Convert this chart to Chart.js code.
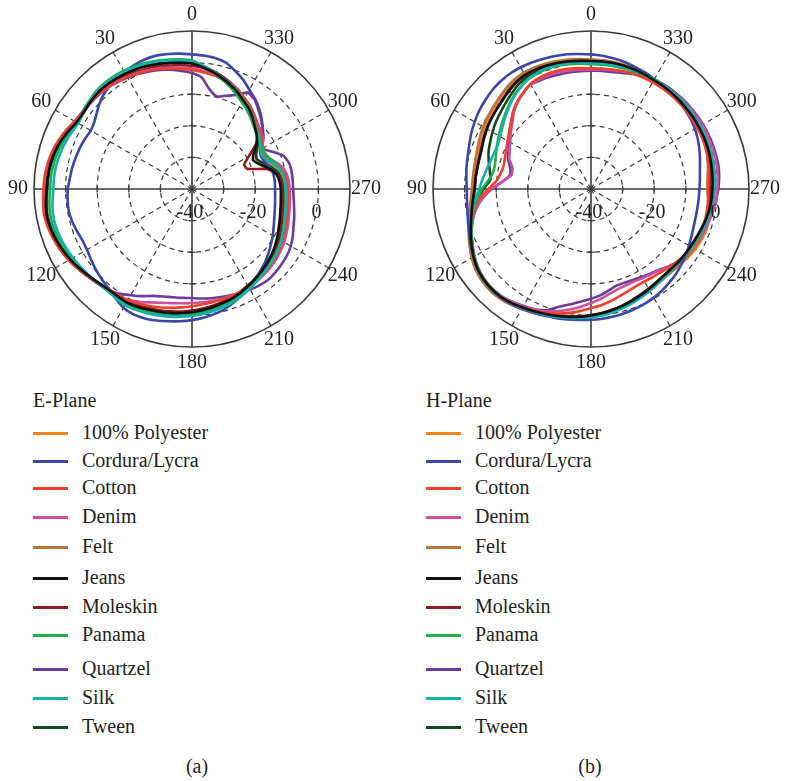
<!DOCTYPE html>
<html><head><meta charset="utf-8">
<script src="https://cdn.jsdelivr.net/npm/chart.js@4.4.0/dist/chart.umd.min.js"></script>
<style>
html,body{margin:0;padding:0;background:#fff;}
#page{position:relative;width:786px;height:781px;overflow:hidden;font-family:"Liberation Serif","Tinos","Times New Roman","DejaVu Serif",serif;color:#231f20;}
canvas{position:absolute;top:0;}
.txt{position:absolute;font-size:20px;line-height:20px;height:20px;white-space:nowrap;}
.sw{position:absolute;width:35px;height:3px;}
</style></head><body><div id="page">
<canvas id="cE" width="393" height="380" style="left:0"></canvas>
<canvas id="cH" width="393" height="380" style="left:393px"></canvas>
</div>
<script>
// ---------------- DATA ----------------
const sampleAngles = [0,5,10,15,20,25,30,35,40,45,50,55,60,65,70,75,80,85,90,95,100,105,110,115,120,125,130,135,140,145,150,155,160,165,170,175,180,185,190,195,200,205,210,215,220,225,230,235,240,245,250,255,260,265,270,275,280,285,290,295,300,305,310,315,320,325,330,335,340,345,350,355];
const angleTickLabels = ['0','30','60','90','120','150','180','210','240','270','300','330'];
const angleTickValues = [0,30,60,90,120,150,180,210,240,270,300,330];
const radialTickLabels = ['-40','-20','0'];
const radialTickValues = [-40,-20,0];
const seriesNames = ['100% Polyester','Cordura/Lycra','Cotton','Denim','Felt','Jeans','Moleskin','Panama','Quartzel','Silk','Tween'];
const planeTitles = ['E-Plane','H-Plane'];
const captions = ['(a)','(b)'];

// E-plane (dB), angles 0..355 step 5 (counter-clockwise from top)
const ePolyester = [0.1,0.5,0.9,1.3,1.7,2.0,2.3,2.6,2.8,2.8,2.5,2.2, 2.4,3.4,4.3,5.1,5.6,5.9,6.1,6.5,6.8,6.6,6.1,5.4, 4.6,3.7,2.9,2.1,1.6,1.5,1.6,1.3,0.8,0.4,0.0,-0.4, -0.8,-1.3,-1.8,-2.3,-2.8,-3.4,-4.0,-4.6,-5.2,-5.8,-6.4,-7.1, -7.8,-8.6,-9.3,-9.8,-10.2,-10.5,-10.6,-10.8,-11.4,-12.8,-14.6,-15.8, -15.2,-13.6,-12.4,-11.2,-9.8,-8.4,-7.2,-5.8,-4.5,-3.3,-2.1,-1.0];
const eCordura = [2.6,3.0,3.4,3.7,3.6,3.3,2.8,2.2,1.5,0.5,-1.0,-2.4, -3.0,-2.6,-2.2,-1.9,-1.5,-1.2,-0.7,-0.5,-0.4,-0.7,-1.2,-1.7, -1.6,-1.0,-0.3,0.4,1.0,2.2,3.4,3.8,3.6,3.1,2.5,2.0, 1.5,0.9,0.2,-0.6,-1.7,-2.9,-4.2,-5.3,-6.3,-7.3,-8.4,-9.5, -10.5,-11.5,-12.3,-12.9,-13.3,-13.6,-13.7,-13.7,-13.8,-14.3,-15.3,-15.8, -15.0,-12.8,-10.8,-8.8,-6.9,-5.2,-3.7,-1.8,-0.2,1.4,2.1,2.4];
const eCotton = [-2.3,-1.8,-1.3,-0.7,-0.1,0.5,1.0,1.5,1.9,2.2,2.3,2.4, 2.9,4.0,5.0,5.8,6.4,6.8,7.0,7.3,7.5,7.2,6.6,5.9, 5.0,4.0,3.0,2.1,1.4,1.0,0.6,0.0,-0.6,-1.2,-1.8,-2.4, -2.9,-3.3,-3.6,-3.8,-3.9,-4.0,-4.2,-4.5,-4.9,-5.3,-5.8,-6.3, -6.9,-7.6,-8.3,-8.8,-9.2,-9.5,-9.8,-10.0,-10.5,-11.8,-13.8,-15.2, -14.6,-13.0,-11.9,-10.9,-9.5,-8.0,-6.8,-5.5,-4.6,-3.9,-3.3,-2.8];
const eDenim = [-1.9,-1.5,-1.0,-0.4,0.1,0.6,1.0,1.4,1.8,2.0,2.0,2.0, 2.5,3.6,4.6,5.4,5.9,6.2,6.4,6.8,7.0,6.8,6.3,5.6, 4.8,3.8,2.8,1.9,1.3,1.0,0.5,-0.6,-1.8,-2.7,-3.3,-3.7, -3.9,-4.0,-4.0,-4.0,-4.0,-4.0,-4.2,-4.3,-4.6,-4.9,-5.3,-5.8, -6.3,-7.0,-7.6,-8.2,-8.6,-8.9,-9.1,-9.3,-9.8,-11.0,-13.0,-14.6, -14.2,-12.6,-11.6,-10.6,-9.3,-7.9,-6.8,-5.4,-4.4,-3.6,-2.9,-2.4];
const eFelt = [0.1,0.5,0.9,1.4,1.8,2.2,2.5,2.8,3.0,3.0,2.7,2.4, 2.6,3.6,4.6,5.4,5.9,6.2,6.4,6.8,7.1,6.9,6.4,5.7, 4.9,4.0,3.1,2.3,1.8,1.7,1.8,1.5,1.0,0.6,0.2,-0.2, -0.6,-1.2,-1.7,-2.2,-2.7,-3.3,-3.9,-4.5,-5.1,-5.7,-6.4,-7.2, -8.0,-8.9,-9.6,-10.2,-10.6,-10.9,-11.0,-11.3,-12.0,-13.8,-16.2,-17.6, -16.6,-14.3,-12.8,-11.4,-9.9,-8.4,-7.2,-5.7,-4.4,-3.2,-2.0,-0.9];
const eJeans = [-0.3,0.1,0.5,1.0,1.4,1.8,2.1,2.4,2.6,2.6,2.3,2.0, 2.2,3.2,4.2,5.0,5.5,5.8,6.0,6.4,6.7,6.5,6.0,5.3, 4.5,3.6,2.7,1.9,1.4,1.3,1.4,1.1,0.6,0.2,-0.2,-0.6, -1.0,-1.6,-2.1,-2.6,-3.1,-3.8,-4.5,-5.2,-5.9,-6.6,-7.3,-8.1, -8.9,-9.8,-10.5,-11.1,-11.5,-11.8,-11.9,-12.2,-12.9,-14.8,-17.2,-18.6, -17.5,-15.0,-13.3,-11.9,-10.3,-8.8,-7.6,-6.1,-4.8,-3.6,-2.4,-1.3];
const eMoleskin = [-1.1,-0.7,-0.3,0.2,0.6,1.0,1.4,1.8,2.1,2.3,2.2,2.1, 2.5,3.6,4.6,5.5,6.0,6.3,6.5,6.9,7.2,7.0,6.5,5.8, 5.0,4.0,3.0,2.1,1.4,1.0,0.9,0.6,0.1,-0.3,-0.7,-1.1, -1.5,-2.0,-2.5,-3.0,-3.5,-4.1,-4.7,-5.3,-5.9,-6.5,-7.1,-7.7, -8.4,-9.2,-9.9,-10.4,-10.7,-10.9,-11.0,-11.3,-12.6,-15.5,-21.4,-21.8, -19.2,-15.3,-12.6,-11.2,-9.7,-8.2,-7.0,-5.5,-4.2,-3.1,-2.1,-1.5];
const ePanama = [0.7,1.2,1.6,2.1,2.5,2.9,3.2,3.4,3.5,3.3,2.8,2.2, 2.1,2.8,3.5,4.1,4.5,4.8,4.9,5.3,5.6,5.5,5.1,4.6, 4.0,3.3,2.6,2.0,1.7,1.8,2.0,1.8,1.4,1.0,0.5,0.1, -0.2,-0.7,-1.2,-1.8,-2.4,-3.1,-3.8,-4.5,-5.1,-5.6,-6.2,-6.8, -7.4,-8.2,-8.9,-9.5,-9.9,-10.2,-10.4,-10.6,-11.0,-11.9,-13.2,-14.2, -14.3,-13.8,-13.2,-12.3,-11.0,-9.6,-8.4,-6.9,-5.4,-4.0,-2.5,-0.9];
const eQuartzel = [-3.3,-2.5,-1.7,-1.0,-0.4,0.2,0.7,1.2,1.7,2.0,2.2,2.3, 2.6,3.4,4.3,5.0,5.5,5.8,6.0,6.3,6.6,6.4,5.9,5.2, 4.5,3.7,2.9,2.2,1.5,0.4,-1.2,-2.6,-4.0,-4.8,-5.2,-5.4, -5.5,-5.2,-4.9,-4.6,-4.2,-3.8,-3.3,-2.8,-2.5,-2.7,-3.0,-3.3, -3.9,-4.8,-5.8,-6.5,-7.2,-7.7,-8.0,-8.0,-8.0,-8.2,-9.2,-12.0, -14.4,-12.4,-10.7,-9.0,-7.3,-5.5,-4.7,-7.2,-8.6,-9.7,-8.0,-4.6];
const eSilk = [0.5,0.9,1.3,1.8,2.2,2.6,2.9,3.1,3.2,3.0,2.5,1.9, 1.6,2.1,2.7,3.2,3.6,3.8,3.9,4.3,4.7,4.7,4.4,4.0, 3.5,3.0,2.5,2.1,1.9,2.1,2.4,2.2,1.8,1.4,1.0,0.6, 0.2,-0.3,-0.8,-1.4,-2.0,-2.7,-3.5,-4.3,-5.0,-5.6,-6.1,-6.7, -7.3,-8.1,-8.8,-9.4,-9.8,-10.1,-10.3,-10.5,-11.0,-12.3,-14.2,-15.4, -15.0,-13.8,-12.6,-11.6,-10.1,-8.6,-7.4,-5.9,-4.6,-3.4,-2.1,-0.8];
const eTween = [0.0,0.4,0.8,1.3,1.7,2.1,2.4,2.7,2.9,2.9,2.6,2.3, 2.3,3.1,4.0,4.8,5.3,5.6,5.8,6.2,6.5,6.3,5.8,5.1, 4.4,3.6,2.8,2.1,1.7,1.6,1.7,1.5,1.0,0.6,0.2,-0.2, -0.6,-1.2,-1.7,-2.3,-2.8,-3.5,-4.2,-4.9,-5.5,-6.1,-6.8,-7.5, -8.3,-9.1,-9.8,-10.4,-10.8,-11.1,-11.2,-11.5,-12.1,-13.8,-16.0,-17.4, -16.5,-14.3,-12.9,-11.6,-10.1,-8.6,-7.3,-5.8,-4.5,-3.3,-2.1,-1.0];

// H-plane (dB)
const hPolyester = [0.8,1.1,1.4,1.7,2.0,2.2,2.2,1.9,1.3,0.6,0.0,-0.6, -1.2,-1.8,-2.4,-2.8,-3.0,-3.0,-2.9,-2.3,-1.5,-0.5,0.7,1.9, 3.1,4.1,4.7,4.9,4.8,4.3,3.6,3.0,2.3,1.8,1.3,0.8, 0.3,-0.2,-0.8,-1.4,-2.0,-2.6,-3.1,-3.5,-3.7,-3.5,-3.0,-2.4, -1.9,-1.5,-1.3,-1.4,-1.8,-2.4,-2.9,-2.8,-2.3,-1.7,-1.2,-0.9, -0.7,-0.6,-0.5,-0.4,-0.3,-0.2,-0.1,0.1,0.3,0.5,0.7,0.8];
const hCordura = [2.6,2.9,3.3,3.6,3.9,4.2,4.5,4.6,4.5,4.2,3.7,3.2, 2.5,1.8,1.0,0.4,0.0,-0.4,-0.7,-0.6,-0.3,0.3,1.0,2.0, 3.0,3.9,4.5,4.8,4.7,4.3,3.8,3.2,2.7,2.3,1.9,1.6, 1.4,1.2,1.0,0.7,0.4,0.1,-0.3,-0.8,-1.4,-2.0,-2.7,-3.4, -4.2,-4.9,-5.4,-5.7,-5.8,-5.8,-5.7,-5.4,-5.0,-4.3,-3.5,-2.7, -2.0,-1.5,-1.1,-0.7,-0.4,-0.1,0.2,0.6,1.0,1.5,1.9,2.3];
const hCotton = [-1.8,-1.6,-1.3,-1.1,-1.0,-1.2,-1.6,-2.7,-3.8,-5.3,-7.0,-8.4, -9.5,-10.4,-11.0,-11.4,-11.0,-10.0,-7.5,-4.5,-2.5,-1.0,0.3,1.5, 2.7,3.7,4.3,4.5,4.4,3.9,3.2,2.5,1.7,0.8,-0.2,-1.2, -2.3,-3.1,-4.0,-4.9,-5.6,-6.1,-6.2,-6.0,-5.6,-5.0,-4.3,-3.8, -3.3,-2.9,-2.7,-2.6,-2.7,-2.8,-2.9,-2.6,-2.2,-1.8,-1.5,-1.3, -1.2,-1.1,-1.0,-1.0,-1.0,-1.0,-1.0,-1.1,-1.2,-1.4,-1.6,-1.7];
const hDenim = [-2.2,-2.1,-1.9,-1.7,-1.6,-1.6,-1.8,-2.8,-4.0,-5.5,-7.5,-9.0, -10.5,-11.6,-12.5,-14.3,-14.5,-12.0,-8.6,-5.5,-3.0,-1.2,0.2,1.4, 2.6,3.6,4.2,4.4,4.2,3.6,2.9,2.1,1.2,0.0,-1.3,-2.6, -3.9,-5.1,-6.3,-7.2,-7.6,-7.7,-7.4,-7.0,-6.4,-5.3,-4.3,-3.6, -3.0,-2.4,-1.8,-1.2,-0.7,-0.3,0.0,0.3,0.5,0.6,0.6,0.6, 0.6,0.5,0.4,0.3,0.2,0.0,-0.3,-0.7,-1.1,-1.5,-1.8,-2.0];
const hFelt = [1.0,1.3,1.6,1.9,2.2,2.4,2.5,2.3,1.7,1.0,0.4,-0.1, -0.6,-1.2,-1.8,-2.2,-2.4,-2.4,-2.3,-1.8,-1.0,0.0,1.2,2.4, 3.6,4.6,5.1,5.3,5.1,4.6,3.9,3.2,2.5,1.9,1.4,0.9, 0.4,-0.1,-0.6,-1.2,-1.8,-2.4,-2.9,-3.3,-3.5,-3.4,-3.1,-2.7, -2.3,-1.9,-1.7,-1.8,-2.2,-2.8,-3.2,-3.0,-2.4,-1.8,-1.2,-0.9, -0.7,-0.6,-0.5,-0.4,-0.3,-0.2,-0.1,0.1,0.4,0.6,0.8,0.9];
const hJeans = [0.5,0.7,1.0,1.3,1.5,1.7,1.7,1.3,0.6,-0.3,-0.9,-1.4, -1.9,-2.5,-3.2,-3.4,-3.4,-3.3,-3.2,-2.5,-1.7,-0.7,0.5,1.7, 2.9,3.9,4.4,4.6,4.5,4.0,3.3,2.7,2.1,1.6,1.1,0.6, 0.0,-0.5,-1.1,-1.7,-2.3,-2.9,-3.4,-3.9,-4.2,-4.2,-4.0,-3.8, -3.6,-3.3,-2.9,-2.4,-2.0,-1.7,-1.6,-1.4,-1.2,-1.0,-0.8,-0.7, -0.6,-0.5,-0.5,-0.4,-0.3,-0.2,-0.2,0.0,0.2,0.4,0.5,0.5];
const hMoleskin = [0.3,0.6,0.9,1.2,1.4,1.6,1.5,1.1,0.4,-0.4,-0.9,-1.4, -2.0,-2.6,-3.0,-3.3,-3.4,-3.3,-3.2,-2.6,-1.8,-0.8,0.4,1.6, 2.8,3.8,4.4,4.6,4.4,3.9,3.2,2.6,2.0,1.4,0.9,0.4, -0.1,-0.6,-1.2,-1.8,-2.5,-3.1,-3.6,-4.0,-4.2,-4.1,-3.8,-3.4, -3.1,-2.8,-2.5,-2.2,-2.1,-2.2,-2.4,-2.2,-1.8,-1.4,-1.1,-0.9, -0.8,-0.7,-0.6,-0.5,-0.4,-0.3,-0.2,-0.1,0.1,0.2,0.3,0.3];
const hPanama = [-0.5,-0.2,0.1,0.4,0.5,0.3,0.0,-0.8,-1.8,-3.0,-4.2,-5.3, -6.3,-7.2,-8.0,-8.6,-8.6,-7.5,-5.5,-3.8,-2.2,-0.9,0.3,1.5, 2.7,3.7,4.3,4.5,4.4,4.0,3.4,2.8,2.2,1.7,1.2,0.8, 0.4,0.0,-0.6,-1.2,-1.8,-2.4,-3.0,-3.5,-3.9,-4.0,-3.9,-3.6, -3.3,-2.9,-2.5,-2.0,-1.6,-1.3,-1.1,-0.9,-0.7,-0.6,-0.5,-0.4, -0.3,-0.3,-0.2,-0.2,-0.2,-0.2,-0.2,-0.3,-0.4,-0.5,-0.5,-0.5];
const hQuartzel = [-2.6,-2.6,-2.5,-2.4,-2.2,-2.0,-1.8,-2.7,-3.8,-5.2,-7.0,-8.5, -10.0,-11.2,-12.0,-13.5,-14.0,-12.0,-8.6,-5.5,-3.0,-1.2,0.2,1.4, 2.6,3.6,4.2,4.4,4.2,3.5,2.7,2.1,0.8,-1.5,-3.0,-4.3, -5.3,-6.2,-7.4,-8.4,-8.5,-8.3,-7.9,-7.3,-6.6,-5.3,-4.3,-3.7, -3.2,-2.8,-2.2,-1.6,-0.9,-0.3,0.3,0.7,1.0,1.0,1.0,1.0, 0.9,0.8,0.7,0.6,0.5,0.3,0.0,-0.6,-1.3,-2.0,-2.4,-2.5];
const hSilk = [-0.2,0.1,0.4,0.7,0.8,0.5,0.0,-1.0,-2.0,-3.3,-4.6,-5.8, -6.8,-7.4,-7.3,-6.9,-6.3,-5.5,-4.6,-3.2,-2.0,-0.8,0.4,1.6, 2.8,3.8,4.4,4.6,4.5,4.1,3.5,2.9,2.4,1.9,1.4,1.0, 0.6,0.2,-0.4,-1.0,-1.6,-2.2,-2.8,-3.3,-3.7,-3.9,-3.8,-3.6, -3.3,-2.9,-2.4,-1.9,-1.5,-1.1,-0.8,-0.6,-0.4,-0.3,-0.2,-0.1, 0.0,0.0,0.1,0.1,0.1,0.1,0.1,0.0,-0.1,-0.1,-0.2,-0.2];
const hTween = [0.4,0.6,0.8,1.0,1.0,0.9,0.8,0.2,-0.8,-1.7,-2.5,-3.2, -4.0,-4.8,-5.5,-6.5,-7.5,-8.0,-6.0,-4.0,-2.3,-1.0,0.3,1.5, 2.7,3.7,4.3,4.5,4.4,3.9,3.3,2.7,2.1,1.6,1.1,0.6, 0.1,-0.4,-1.0,-1.6,-2.2,-2.8,-3.3,-3.8,-4.1,-4.2,-4.0,-3.8, -3.6,-3.3,-2.9,-2.5,-2.1,-1.8,-1.4,-1.2,-1.0,-0.8,-0.6,-0.5, -0.4,-0.3,-0.3,-0.2,-0.1,0.0,0.0,0.1,0.2,0.3,0.4,0.4];

const ePlane = [ePolyester,eCordura,eCotton,eDenim,eFelt,eJeans,eMoleskin,ePanama,eQuartzel,eSilk,eTween];
const hPlane = [hPolyester,hCordura,hCotton,hDenim,hFelt,hJeans,hMoleskin,hPanama,hQuartzel,hSilk,hTween];

// ---------------- STYLE / LAYOUT ----------------
const seriesColors = ['#f58220','#3c46a6','#ee412e','#cd4f9e','#b97539','#111111','#8e1b20','#1db04b','#6a3c99','#16b1ab','#0f4a22'];
const drawOrder = [11,7,4,5,10,1,8,3,6,2,9];
const gridColor = '#3a3a3a';
const textFont = '20px "Liberation Serif", Tinos, "Times New Roman", "DejaVu Serif", serif';
const legendRowY = [433,461,488,517,547,578,607,635,669,698,727];
const panelX = [0,393];

// radar draws clockwise from the top: reorder so angles increase counter-clockwise
const nA = sampleAngles.length;
const radarIdx = [];
for (let i = 0; i < nA; i++) radarIdx.push((nA - i) % nA);
function radarIndexOfAngle(a){ for (let i=0;i<nA;i++) if (sampleAngles[radarIdx[i]]===a) return i; return 0; }

const decorPlugin = {
  id: 'decor',
  beforeDatasetsDraw(chart) {
    const s = chart.scales.r, ctx = chart.ctx;
    ctx.save();
    ctx.strokeStyle = gridColor; ctx.lineWidth = 1.3; ctx.setLineDash([]);
    [0,90,180,270].forEach(a => {
      const idx = radarIndexOfAngle(a);
      [-30,-20,-10,0].forEach(v => {
        const p = s.getPointPosition(idx, s.getDistanceFromCenterForValue(v));
        ctx.beginPath();
        if (a % 180 === 0) { ctx.moveTo(p.x - 3.5, p.y); ctx.lineTo(p.x + 3.5, p.y); }
        else { ctx.moveTo(p.x, p.y - 3.5); ctx.lineTo(p.x, p.y + 3.5); }
        ctx.stroke();
      });
    });
    ctx.restore();
  },
  afterDatasetsDraw(chart) {
    const s = chart.scales.r, ctx = chart.ctx;
    ctx.save();
    ctx.fillStyle = '#231f20';
    ctx.font = textFont;
    ctx.textAlign = 'center'; ctx.textBaseline = 'middle';
    angleTickValues.forEach((a, j) => {
      const p = s.getPointPosition(radarIndexOfAngle(a), s.drawingArea + 16);
      ctx.fillText(angleTickLabels[j], p.x, p.y);
    });
    radialTickValues.forEach((v, j) => {
      const x = s.xCenter + s.getDistanceFromCenterForValue(v) - 2;
      ctx.fillText(radialTickLabels[j], x, s.yCenter + 24);
    });
    ctx.restore();
  }
};

function buildChart(canvasId, plane, padLeft) {
  const labels = radarIdx.map(k => String(sampleAngles[k]));
  const datasets = plane.map((vals, s) => ({
    label: seriesNames[s],
    data: radarIdx.map(k => vals[k]),
    borderColor: seriesColors[s],
    backgroundColor: seriesColors[s],
    borderWidth: 2.6,
    pointRadius: 0,
    pointHoverRadius: 0,
    fill: false,
    tension: 0.15,
    order: drawOrder[s]
  }));
  return new Chart(document.getElementById(canvasId), {
    type: 'radar',
    data: { labels, datasets },
    options: {
      responsive: false,
      animation: false,
      events: [],
      layout: { padding: { left: padLeft, right: 393 - padLeft - 316, top: 31, bottom: 380 - 31 - 316 } },
      plugins: { legend: { display: false }, tooltip: { enabled: false } },
      scales: {
        r: {
          min: -40, max: 10, startAngle: 0, beginAtZero: false,
          ticks: { display: false, stepSize: 10 },
          pointLabels: { display: false },
          grid: {
            circular: true,
            color: gridColor,
            lineWidth: c => (c.tick && c.tick.value === 10) ? 1.6 : 1.2
          },
          border: { dash: c => (c.tick && c.tick.value === 10) ? [] : [5, 4] },
          angleLines: {
            display: true,
            color: c => (c.index % 6 === 0) ? gridColor : 'rgba(0,0,0,0)',
            lineWidth: c => (c.index % 6 === 0) ? ((c.index % 18 === 0) ? 1.6 : 1.2) : 0,
            borderDash: c => (c.index % 18 === 0) ? [] : [5, 4]
          }
        }
      }
    },
    plugins: [decorPlugin]
  });
}

function start() {
  buildChart('cE', ePlane, 34);
  buildChart('cH', hPlane, 40);
}

// HTML legends and captions
const page = document.getElementById('page');
function addText(t, x, yCenter, center) {
  const d = document.createElement('div');
  d.className = 'txt'; d.textContent = t;
  d.style.top = (yCenter - 10) + 'px';
  if (center) { d.style.left = (x - 50) + 'px'; d.style.width = '100px'; d.style.textAlign = 'center'; }
  else d.style.left = x + 'px';
  page.appendChild(d);
}
panelX.forEach((ox, p) => {
  addText(planeTitles[p], ox + 33, 400, false);
  seriesNames.forEach((nm, s) => {
    const sw = document.createElement('div');
    sw.className = 'sw';
    sw.style.left = (ox + 33) + 'px';
    sw.style.top = (legendRowY[s] - 1.5) + 'px';
    sw.style.background = seriesColors[s];
    page.appendChild(sw);
    addText(nm, ox + 82, legendRowY[s] - 1, false);
  });
  addText(captions[p], ox + 197, 766, true);
});

if (document.fonts && document.fonts.load) {
  document.fonts.load(textFont).then(start, start);
} else start();
</script></body></html>
